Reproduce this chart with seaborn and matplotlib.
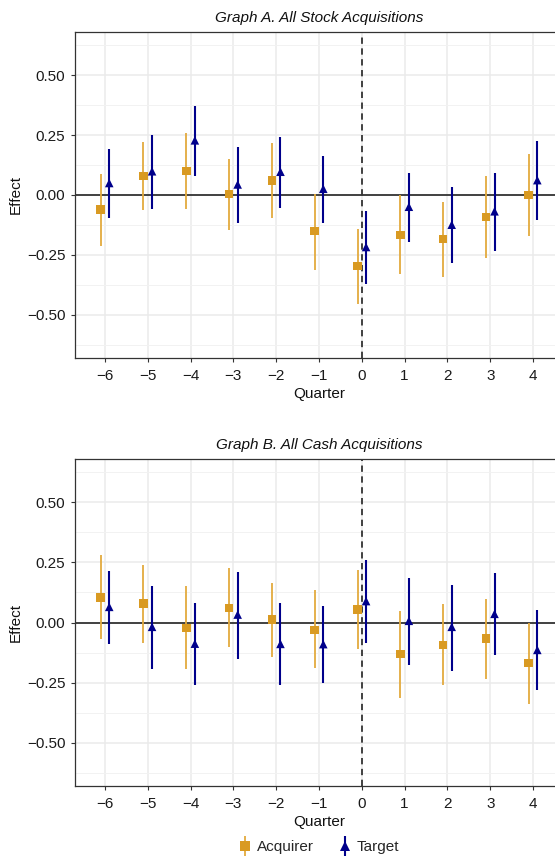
import numpy as np
import pandas as pd
import matplotlib
matplotlib.use("Agg")
import matplotlib.pyplot as plt
import seaborn as sns
from matplotlib.lines import Line2D

quarters = [-6, -5, -4, -3, -2, -1, 0, 1, 2, 3, 4]

# Graph A: all stock acquisitions
stock_acq = [-0.060, 0.079, 0.100, 0.004, 0.061, -0.150, -0.297, -0.167, -0.183, -0.092, 0.000]
stock_acq_lo = [-0.212, -0.064, -0.060, -0.147, -0.096, -0.311, -0.454, -0.329, -0.340, -0.264, -0.169]
stock_acq_hi = [0.089, 0.221, 0.260, 0.151, 0.217, 0.006, -0.143, 0.000, -0.028, 0.081, 0.169]
stock_tgt = [0.050, 0.099, 0.228, 0.044, 0.097, 0.026, -0.217, -0.049, -0.124, -0.068, 0.062]
stock_tgt_lo = [-0.096, -0.060, 0.079, -0.115, -0.054, -0.115, -0.371, -0.194, -0.282, -0.233, -0.103]
stock_tgt_hi = [0.193, 0.250, 0.372, 0.200, 0.243, 0.164, -0.068, 0.093, 0.032, 0.093, 0.226]

# Graph B: all cash acquisitions
cash_acq = [0.103, 0.079, -0.022, 0.061, 0.012, -0.031, 0.054, -0.131, -0.093, -0.067, -0.168]
cash_acq_lo = [-0.069, -0.086, -0.192, -0.100, -0.142, -0.190, -0.112, -0.312, -0.260, -0.233, -0.337]
cash_acq_hi = [0.279, 0.240, 0.151, 0.225, 0.165, 0.135, 0.218, 0.049, 0.075, 0.099, 0.000]
cash_tgt = [0.065, -0.018, -0.088, 0.033, -0.089, -0.090, 0.089, 0.007, -0.018, 0.036, -0.114]
cash_tgt_lo = [-0.088, -0.192, -0.258, -0.150, -0.262, -0.253, -0.086, -0.176, -0.200, -0.135, -0.279]
cash_tgt_hi = [0.215, 0.153, 0.081, 0.212, 0.082, 0.068, 0.258, 0.185, 0.158, 0.207, 0.051]

groups = ["Acquirer", "Target"]
titles = ["Graph A. All Stock Acquisitions", "Graph B. All Cash Acquisitions"]


def make_df(acq, acq_lo, acq_hi, tgt, tgt_lo, tgt_hi):
    a = pd.DataFrame({"quarter": quarters, "effect": acq, "lo": acq_lo, "hi": acq_hi, "group": "Acquirer"})
    t = pd.DataFrame({"quarter": quarters, "effect": tgt, "lo": tgt_lo, "hi": tgt_hi, "group": "Target"})
    return pd.concat([a, t], ignore_index=True)


frames = [
    make_df(stock_acq, stock_acq_lo, stock_acq_hi, stock_tgt, stock_tgt_lo, stock_tgt_hi),
    make_df(cash_acq, cash_acq_lo, cash_acq_hi, cash_tgt, cash_tgt_lo, cash_tgt_hi),
]

sns.set_theme(style="whitegrid")
plt.rcParams["font.family"] = ["Liberation Sans", "DejaVu Sans"]

colors = {"Acquirer": "#D99A22", "Target": "#00008B"}
bar_colors = {"Acquirer": "#E3AA3E", "Target": "#00008B"}
markers = {"Acquirer": "s", "Target": "^"}
offsets = {"Acquirer": -0.1, "Target": 0.1}
lws = {"Acquirer": 1.3, "Target": 1.5}

fig = plt.figure(figsize=(5.55, 8.57), dpi=100)
W, H = 555, 857
panels = [(32, 358), (459, 786)]
left, right = 75, 563

for (top, bot), df, title in zip(panels, frames, titles):
    ax = fig.add_axes([left / W, 1 - bot / H, (right - left) / W, (bot - top) / H])
    df = df.copy()
    df["x"] = df["quarter"] + df["group"].map(offsets)

    for g in groups:
        d = df[df["group"] == g]
        ax.vlines(d["x"], d["lo"], d["hi"], color=bar_colors[g], lw=lws[g], zorder=3)
    sns.scatterplot(data=df, x="x", y="effect", hue="group", style="group",
                    palette=colors, markers=markers, s=38, linewidth=0,
                    legend=False, ax=ax, zorder=4)

    ax.axhline(0, color="#333333", lw=1.3, zorder=2)
    ax.axvline(0, color="#333333", lw=1.3, ls=(0, (3.5, 2.5)), zorder=2)

    ax.set_xlim(-6.7, 4.7)
    ax.set_ylim(-0.68, 0.68)
    ax.set_xticks(quarters)
    ax.set_yticks([-0.5, -0.25, 0, 0.25, 0.5])
    ax.set_yticks(np.arange(-0.625, 0.63, 0.25), minor=True)
    ax.set_yticklabels(["−0.50", "−0.25", "0.00", "0.25", "0.50"])
    ax.grid(True, which="major", color="#EBEBEB", lw=1.1)
    ax.grid(True, which="minor", axis="y", color="#F2F2F2", lw=0.7)
    ax.set_axisbelow(True)
    for s in ax.spines.values():
        s.set_color("#333333")
        s.set_linewidth(0.9)
    ax.tick_params(axis="both", which="major", length=3, width=0.8, color="#333333",
                   labelsize=11, labelcolor="#1a1a1a", left=True, bottom=True)
    ax.tick_params(axis="x", which="major", pad=5)
    ax.tick_params(axis="y", which="major", pad=4)
    ax.tick_params(axis="y", which="minor", length=0)
    ax.set_xlabel("Quarter", fontsize=11, color="#111111", labelpad=3)
    ax.set_ylabel("Effect", fontsize=11, color="#111111", labelpad=3)
    ax.set_title(title, fontsize=11, style="italic", color="#111111", pad=7)

handles = []
for g in groups:
    bar = Line2D([], [], color=bar_colors[g], marker="|", ms=15, mew=lws[g], ls="")
    pt = Line2D([], [], color=colors[g], marker=markers[g], ms=6.5, ls="", mew=0)
    handles.append((bar, pt))
fig.legend(handles, groups, loc="center", bbox_to_anchor=(319 / W, 1 - 847 / H),
           ncol=2, frameon=False, fontsize=11, handlelength=0.8, handletextpad=0.4,
           columnspacing=1.6)

fig.savefig("out.png", dpi=100)
